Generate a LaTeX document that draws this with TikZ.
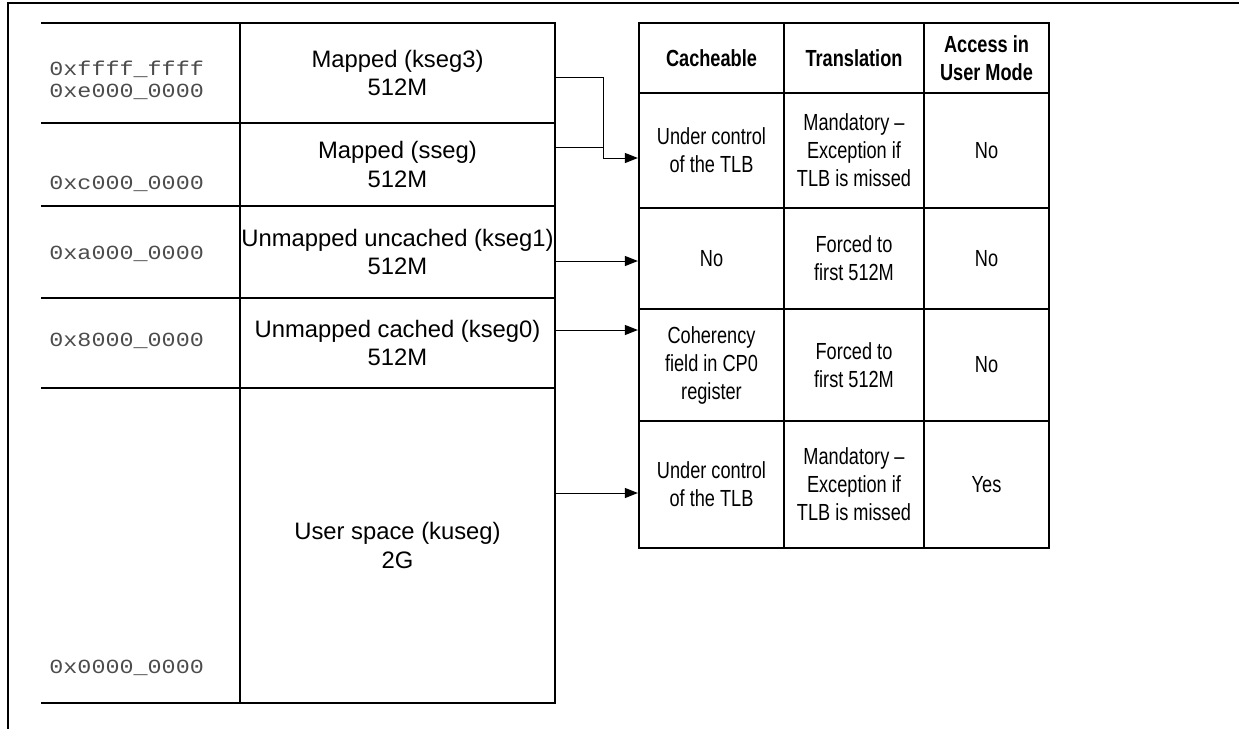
\documentclass[tikz,border=0pt]{standalone}
\usepackage{fontspec}
\setmainfont{Liberation Sans}
\newfontfamily\addrfont[FakeStretch=1.17]{Liberation Mono}
\newfontfamily\narrowfont[FakeStretch=0.78]{Liberation Sans}
\usetikzlibrary{arrows.meta}

\begin{document}
\begin{tikzpicture}[x=0.5pt, y=-0.5pt]
    \tikzstyle{segCell}=[draw, line width=1pt, rectangle, inner sep=0pt, minimum width=157.5pt, align=center, font=\fontsize{11.9pt}{14.25pt}\selectfont]
    \tikzstyle{addr}=[anchor=base west, inner sep=0pt, black!70, font=\addrfont\fontsize{10pt}{12pt}\selectfont]
    \tikzstyle{tabCell}=[draw, line width=1.1pt, rectangle, inner sep=0pt, align=center, font=\narrowfont\fontsize{11.65pt}{14pt}\selectfont]
    \tikzstyle{tabHead}=[tabCell, minimum height=35pt, font=\narrowfont\bfseries\fontsize{11.65pt}{14pt}\selectfont]
    \tikzstyle{mapArrow}=[line width=0.5pt, -{Triangle[length=6.5pt, width=5pt]}]

    \useasboundingbox (0,0) rectangle (1239,729);
    \draw[line width=1pt] (1239,3) -- (8,3) -- (8,729);

    %%%%%%%%%%%%%%%%%%%%%%%%%%%%%%%%%%%%%%%%
    % address map
    \foreach \y in {23,123,206,298,388,703}
        \draw[line width=1pt] (41,\y) -- (240,\y);

    \node[segCell, minimum height=50pt] (kseg3) at (397.5,73) {Mapped (kseg3)\\512M};
    \node[segCell, minimum height=41.5pt] (sseg) at (397.5,164.5) {Mapped (sseg)\\512M};
    \node[segCell, minimum height=46pt] (kseg1) at (397.5,252) {Unmapped uncached (kseg1)\\512M};
    \node[segCell, minimum height=45pt] (kseg0) at (397.5,343) {Unmapped cached (kseg0)\\512M};
    \node[segCell, minimum height=157.5pt] (kuseg) at (397.5,545.5) {User space (kuseg)\\2G};

    \node[addr] (aTop) at (49,75) {0xffff\_ffff};
    \node[addr] (aK3) at (49,97) {0xe000\_0000};
    \node[addr] (aSs) at (49,189) {0xc000\_0000};
    \node[addr] (aK1) at (49,259) {0xa000\_0000};
    \node[addr] (aK0) at (49,346) {0x8000\_0000};
    \node[addr] (aKu) at (49,673) {0x0000\_0000};

    %%%%%%%%%%%%%%%%%%%%%%%%%%%%%%%%%%%%%%%%
    % attribute table
    \node[tabHead, minimum width=72.5pt] (hdCache) at (711.5,58) {Cacheable};
    \node[tabHead, minimum width=70pt] (hdTrans) at (854,58) {Translation};
    \node[tabHead, minimum width=62.5pt] (hdAccess) at (986.5,58) {Access in\\User Mode};

    \node[tabCell, minimum width=72.5pt, minimum height=57.5pt] (cacheA) at (711.5,150.5) {Under control\\of the TLB};
    \node[tabCell, minimum width=70pt, minimum height=57.5pt] (transA) at (854,150.5) {Mandatory –\\Exception if\\TLB is missed};
    \node[tabCell, minimum width=62.5pt, minimum height=57.5pt] (accessA) at (986.5,150.5) {No};

    \node[tabCell, minimum width=72.5pt, minimum height=50.5pt] (cacheB) at (711.5,258.5) {No};
    \node[tabCell, minimum width=70pt, minimum height=50.5pt] (transB) at (854,258.5) {Forced to\\first 512M};
    \node[tabCell, minimum width=62.5pt, minimum height=50.5pt] (accessB) at (986.5,258.5) {No};

    \node[tabCell, minimum width=72.5pt, minimum height=56pt] (cacheC) at (711.5,365) {Coherency\\field in CP0\\register};
    \node[tabCell, minimum width=70pt, minimum height=56pt] (transC) at (854,365) {Forced to\\first 512M};
    \node[tabCell, minimum width=62.5pt, minimum height=56pt] (accessC) at (986.5,365) {No};

    \node[tabCell, minimum width=72.5pt, minimum height=63.5pt] (cacheD) at (711.5,484.5) {Under control\\of the TLB};
    \node[tabCell, minimum width=70pt, minimum height=63.5pt] (transD) at (854,484.5) {Mandatory –\\Exception if\\TLB is missed};
    \node[tabCell, minimum width=62.5pt, minimum height=63.5pt] (accessD) at (986.5,484.5) {Yes};

    %%%%%%%%%%%%%%%%%%%%%%%%%%%%%%%%%%%%%%%%
    % segment -> attributes
    \coordinate (k3Out) at (555,77);
    \coordinate (ssOut) at (555,147);
    \coordinate (k1Out) at (555,261);
    \coordinate (k0Out) at (555,330);
    \coordinate (kuOut) at (555,493);
    \coordinate (merge) at (603,158);

    \draw[mapArrow] (k3Out) -- (k3Out -| merge) -- (merge) -- (merge -| cacheA.west);
    \draw[line width=0.5pt] (ssOut) -- (ssOut -| merge);
    \draw[mapArrow] (k1Out) -- (k1Out -| cacheB.west);
    \draw[mapArrow] (k0Out) -- (k0Out -| cacheC.west);
    \draw[mapArrow] (kuOut) -- (kuOut -| cacheD.west);
\end{tikzpicture}
\end{document}
